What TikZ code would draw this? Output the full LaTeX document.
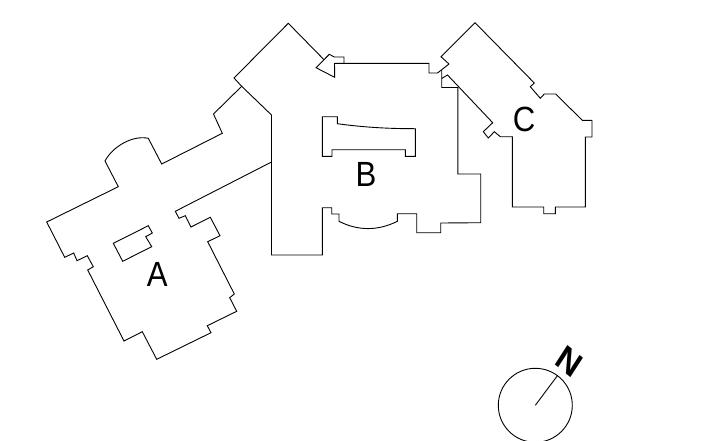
\documentclass[tikz,border=0pt]{standalone}
\usepackage{fontspec}
\setmainfont{Liberation Sans}
\tikzset{
  plan/.style={draw=black,line width=0.9pt,line join=miter,fill=none},
  letter/.style={inner sep=0pt,xscale=0.89,font=\fontsize{35}{35}\selectfont,text=black}
}
\begin{document}
\begin{tikzpicture}[x=1pt,y=-1pt]
\useasboundingbox (0,0) rectangle (702,440);
% Building A
\draw[plan] (241.7,86.3) -- (213.5,114) -- (222.3,133.3) -- (161.7,164) -- (148.3,138.3)
  .. controls (133,135) and (113,146) .. (105,161)
  -- (118.3,186.7) -- (46.7,222) -- (64.7,257.3) -- (73.7,253) -- (77,260.7) -- (87.3,255.7)
  -- (93.3,266.7) -- (87.7,270) -- (124,341) -- (142.3,331.7) -- (156.7,359.3) -- (211,332.7)
  -- (207.3,325.7) -- (236.7,311.3) -- (229.7,297.7) -- (234.3,294) -- (207.7,241.7)
  -- (220,235.7) -- (210.3,217.3) -- (191,227) -- (185.3,215.7) -- (179,218.3)
  -- (175.3,211.3) -- (271.5,162);
\draw[plan] (113.3,243.3) -- (148.3,225.7) -- (152.3,233) -- (145.7,236.7) -- (151.7,246.7)
  -- (122.7,261.3) -- cycle;
% Building B
\draw[plan] (323.8,59.5) -- (288.3,23.3) -- (234,78) -- (241.7,86.3) -- (271.5,115) -- (271.5,255)
  -- (322.3,255) -- (322.3,207.7) -- (331.7,207.7) -- (331.7,214) -- (339,214) -- (339,221.3)
  .. controls (358,231) and (378,231) .. (397.3,221.3)
  -- (397.3,213.7) -- (416.7,213.7) -- (416.7,232.7) -- (440.7,232.7) -- (440.7,223)
  -- (480.7,222.7) -- (480.7,174) -- (457.8,174) -- (457.8,87.5) -- (441.7,87.5) -- (441.7,69.8);
\draw[plan] (334.5,63.3) -- (334.7,77.3) -- (316,67.7) -- (329.3,54.3) -- (334.3,57) -- (344,57)
  -- (344,63.3) -- cycle;
\draw[plan] (344,63.3) -- (429,63.3) -- (429,73) -- (437.5,73) -- (449,64);
\draw[plan] (322.3,116.7) -- (337.3,116.7) -- (337.3,123.7)
  .. controls (365,127.5) and (390,128.7) .. (415.3,128.7)
  -- (415.3,156.3) -- (405.3,156.3) -- (405.3,149.7) -- (332,149.7) -- (332,156.3)
  -- (322.3,156.3) -- cycle;
% Building C
\draw[plan] (449,64) -- (441,56.7) -- (475,22.7) -- (534.3,83) -- (530.3,86.7) -- (540.3,98.3)
  -- (544.3,94) -- (555.7,94) -- (582.3,120.3) -- (592,120.3) -- (592,137) -- (585.3,137)
  -- (585.3,207) -- (555.3,207) -- (555.3,213.7) -- (543.7,213.7) -- (543.7,207) -- (512.3,207)
  -- (512.3,136.7) -- (500.3,136.7) -- (494.3,131.7) -- (488.3,138) -- (483.3,131.7)
  -- (492.7,122.7) -- (447.5,75) -- (441.7,78.5);
% Labels
\node[letter] (labelA) at (157.3,274) {A};
\node[letter] (labelB) at (366,174.5) {B};
\node[letter] (labelC) at (524,119) {C};
% North arrow
\node[draw=black,line width=0.9pt,circle,minimum size=74pt,inner sep=0pt] (compass) at (535.3,405.3) {};
\coordinate (compassTip) at (557.7,375.3);
\draw[plan] (compass.center) -- (compassTip);
\node[letter,rotate=-36,xscale=1.05,font=\fontsize{35}{35}\selectfont\bfseries] (north) at (569,361.3) {N};
\end{tikzpicture}
\end{document}
